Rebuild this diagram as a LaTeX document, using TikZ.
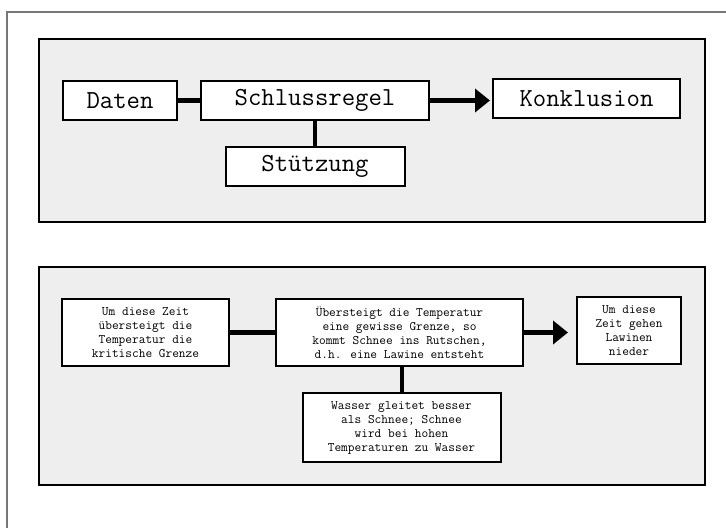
\documentclass[tikz,border=0pt]{standalone}
\usepackage{fontspec}
\usetikzlibrary{arrows.meta}
\definecolor{panelgray}{HTML}{EEEEEE}
\definecolor{framegray}{HTML}{777777}
\tikzset{
  panel/.style={draw=black,fill=panelgray,line width=2pt},
  kasten/.style={draw=black,fill=white,line width=2pt,inner sep=0pt,align=center},
  gross/.style={kasten,font=\ttfamily\fontsize{26}{30}\selectfont},
  klein/.style={kasten,font=\ttfamily\fontsize{13}{14}\selectfont},
  band/.style={line width=5pt},
  stab/.style={line width=4pt},
  pfeil/.style={band,-{Triangle[length=15pt,width=23pt]}}
}
\begin{document}
\begin{tikzpicture}[x=1pt,y=-1pt]
                \useasboundingbox (0,0) rectangle (726,528);
                \draw[framegray,line width=1.5pt] (7,528) -- (7,12) -- (726,12);
                \draw[panel] (39,39) rectangle (705,222);
                \draw[panel] (39,267) rectangle (705,485);
                \node[gross,minimum width=114pt,minimum height=39pt] (daten) at (120,100.5) {Daten};
                \node[gross,minimum width=228pt,minimum height=39pt] (regel) at (315,100.5) {Schlussregel};
                \node[gross,minimum width=187pt,minimum height=39pt] (konkl) at (586.5,98.5) {Konklusion};
                \node[gross,minimum width=179pt,minimum height=39pt] (stuetz) at (315,166.5) {Stützung};
                \draw[band] (daten) -- (regel);
                \draw[pfeil,shorten >=2pt] (regel.east) -- (regel.east -| konkl.west);
                \draw[stab] (regel) -- (stuetz);
                \node[klein,minimum width=167pt,minimum height=67pt] (zeit) at (145.5,332.5) {Um diese Zeit\\übersteigt die\\Temperatur die\\kritische Grenze};
                \node[klein,minimum width=247pt,minimum height=67pt] (grenze) at (399.5,332.5) {Übersteigt die Temperatur\\eine gewisse Grenze, so\\kommt Schnee ins Rutschen,\\d.h. eine Lawine entsteht};
                \node[klein,minimum width=104pt,minimum height=67pt] (lawine) at (629,330.5) {Um diese\\Zeit gehen\\Lawinen\\nieder};
                \node[klein,minimum width=198pt,minimum height=69pt] (wasser) at (401.5,427.5) {Wasser gleitet besser\\als Schnee; Schnee\\wird bei hohen\\Temperaturen zu Wasser};
                \draw[band] (zeit) -- (grenze);
                \draw[pfeil,shorten >=8pt] (grenze.east) -- (grenze.east -| lawine.west);
                \draw[stab] (grenze.south -| wasser.north) -- (wasser.north);
            \end{tikzpicture}
\end{document}
